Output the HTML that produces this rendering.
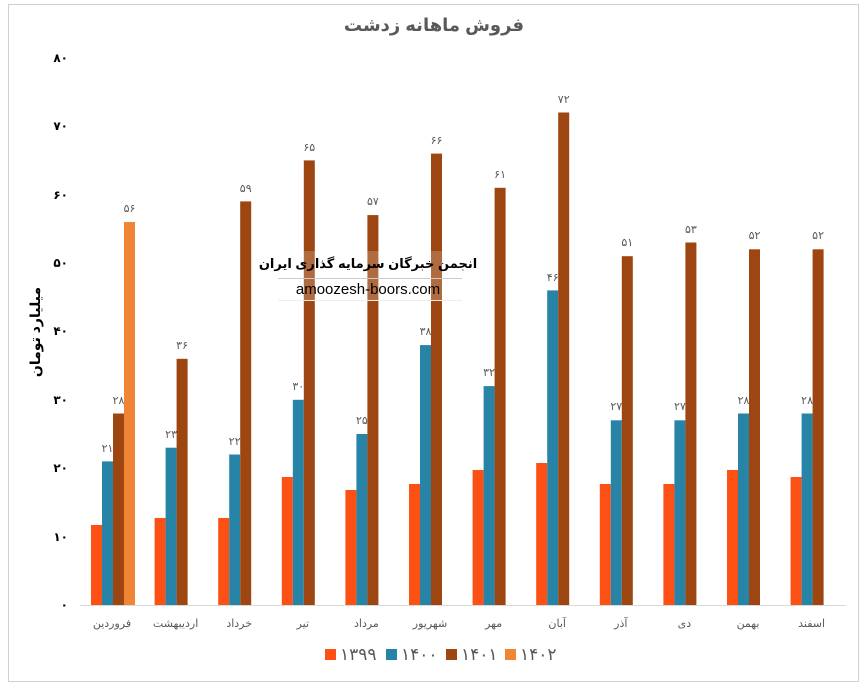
<!DOCTYPE html>
<html><head><meta charset="utf-8"><style>
body{margin:0;background:#fff;width:868px;height:686px;overflow:hidden}
text{font-family:"Liberation Sans","DejaVu Sans",sans-serif}
</style></head><body>
<svg width="868" height="686" viewBox="0 0 868 686">
<rect x="8.5" y="4.5" width="850" height="677" fill="#fff" stroke="#d0d0d0"/>
<text x="434" y="31" text-anchor="middle" font-size="18" font-weight="bold" fill="#595959">فروش ماهانه زدشت</text>
<g font-size="12" font-weight="bold" fill="#000" text-anchor="end">
<text x="68" y="609">۰</text><text x="68" y="541">۱۰</text><text x="68" y="472">۲۰</text><text x="68" y="404">۳۰</text><text x="68" y="335">۴۰</text><text x="68" y="267">۵۰</text><text x="68" y="199">۶۰</text><text x="68" y="130">۷۰</text><text x="68" y="62">۸۰</text>
</g>
<text transform="translate(40,332) rotate(-90)" text-anchor="middle" font-size="14" font-weight="bold" fill="#000">میلیارد تومان</text>
<g id="bars">
<g fill="#fc5014">
<rect x="91" y="525" width="11" height="80"/><rect x="154.6" y="518" width="11" height="87"/><rect x="218.2" y="518" width="11" height="87"/><rect x="281.8" y="477" width="11" height="128"/><rect x="345.4" y="490" width="11" height="115"/><rect x="409" y="484" width="11" height="121"/><rect x="472.6" y="470" width="11" height="135"/><rect x="536.2" y="463" width="11" height="142"/><rect x="599.8" y="484" width="11" height="121"/><rect x="663.4" y="484" width="11" height="121"/><rect x="727" y="470" width="11" height="135"/><rect x="790.6" y="477" width="11" height="128"/>
</g>
<g fill="#2784a7">
<rect x="102" y="461.4" width="11" height="143.6"/><rect x="165.6" y="447.7" width="11" height="157.3"/><rect x="229.2" y="454.5" width="11" height="150.5"/><rect x="292.8" y="399.8" width="11" height="205.2"/><rect x="356.4" y="434" width="11" height="171"/><rect x="420" y="345.1" width="11" height="259.9"/><rect x="483.6" y="386.1" width="11" height="218.9"/><rect x="547.2" y="290.4" width="11" height="314.6"/><rect x="610.8" y="420.3" width="11" height="184.7"/><rect x="674.4" y="420.3" width="11" height="184.7"/><rect x="738" y="413.5" width="11" height="191.5"/><rect x="801.6" y="413.5" width="11" height="191.5"/>
</g>
<g fill="#9e4611">
<rect x="113" y="413.5" width="11" height="191.5"/><rect x="176.6" y="358.8" width="11" height="246.2"/><rect x="240.2" y="201.4" width="11" height="403.6"/><rect x="303.8" y="160.4" width="11" height="444.6"/><rect x="367.4" y="215.1" width="11" height="389.9"/><rect x="431" y="153.6" width="11" height="451.4"/><rect x="494.6" y="187.8" width="11" height="417.2"/><rect x="558.2" y="112.5" width="11" height="492.5"/><rect x="621.8" y="256.2" width="11" height="348.8"/><rect x="685.4" y="242.5" width="11" height="362.5"/><rect x="749" y="249.3" width="11" height="355.7"/><rect x="812.6" y="249.3" width="11" height="355.7"/>
</g>
<rect x="124" y="222" width="11" height="383" fill="#f08535"/>
</g>
<g font-size="11" fill="#595959" text-anchor="middle">
<text x="107.5" y="452">۲۱</text><text x="171.1" y="438">۲۳</text><text x="234.7" y="445">۲۲</text><text x="298.3" y="390">۳۰</text><text x="361.9" y="424">۲۵</text><text x="425.5" y="335">۳۸</text><text x="489.1" y="376">۳۲</text><text x="552.7" y="281">۴۶</text><text x="616.3" y="410">۲۷</text><text x="679.9" y="410">۲۷</text><text x="743.5" y="404">۲۸</text><text x="807.1" y="404">۲۸</text>
<text x="118.5" y="404">۲۸</text><text x="182.1" y="349">۳۶</text><text x="245.7" y="192">۵۹</text><text x="309.3" y="151">۶۵</text><text x="372.9" y="205">۵۷</text><text x="436.5" y="144">۶۶</text><text x="500.1" y="178">۶۱</text><text x="563.7" y="103">۷۲</text><text x="627.3" y="246">۵۱</text><text x="690.9" y="233">۵۳</text><text x="754.5" y="239">۵۲</text><text x="818.1" y="239">۵۲</text>
<text x="129.5" y="212">۵۶</text>
</g>
<line x1="80" y1="605.5" x2="846" y2="605.5" stroke="#d9d9d9"/>
<g font-size="11" fill="#595959" text-anchor="middle">
<text x="112" y="627">فروردین</text><text x="175.6" y="627">اردیبهشت</text><text x="239.2" y="627">خرداد</text><text x="302.8" y="627">تیر</text><text x="366.4" y="627">مرداد</text><text x="430" y="627">شهریور</text><text x="493.6" y="627">مهر</text><text x="557.2" y="627">آبان</text><text x="620.8" y="627">آذر</text><text x="684.4" y="627">دی</text><text x="748" y="627">بهمن</text><text x="811.6" y="627">اسفند</text>
</g>
<rect x="278" y="251" width="184" height="50" fill="#fff" opacity="0.2"/>
<line x1="278" y1="278.5" x2="462" y2="278.5" stroke="#ccc"/>
<line x1="278" y1="300.5" x2="462" y2="300.5" stroke="#eee"/>
<text x="368" y="268" text-anchor="middle" font-size="13" font-weight="bold" fill="#000">انجمن خبرگان سرمایه گذاری ایران</text>
<text x="368" y="294" text-anchor="middle" font-size="15" fill="#000" font-family="Liberation Serif">amoozesh-boors.com</text>
<g font-size="17" fill="#595959">
<rect x="325" y="649" width="11" height="11" fill="#fc5014"/><text x="340" y="660">۱۳۹۹</text>
<rect x="386" y="649" width="11" height="11" fill="#2784a7"/><text x="401" y="660">۱۴۰۰</text>
<rect x="446" y="649" width="11" height="11" fill="#9e4611"/><text x="461" y="660">۱۴۰۱</text>
<rect x="505" y="649" width="11" height="11" fill="#f08535"/><text x="520" y="660">۱۴۰۲</text>
</g>
</svg>
</body></html>
